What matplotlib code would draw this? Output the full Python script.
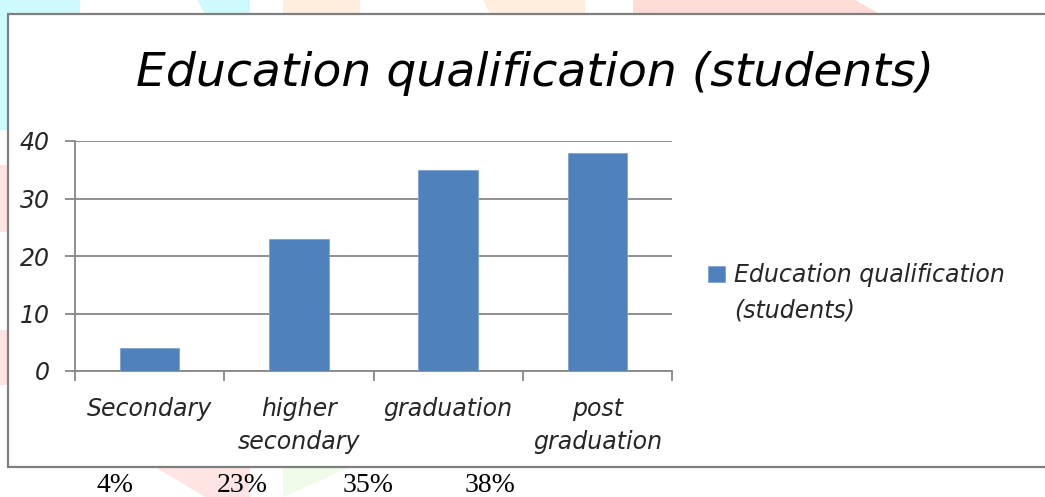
import matplotlib.pyplot as plt
from matplotlib.patches import Rectangle, Polygon

categories = ["Secondary", "higher\nsecondary", "graduation", "post\ngraduation"]
students = [4, 23, 35, 38]
percent_labels = ["4%", "23%", "35%", "38%"]
series_name = "Education qualification\n(students)"
title = "Education qualification (students)"

W, H = 1045, 497
fig = plt.figure(figsize=(W / 100, H / 100), dpi=100)
fig.patch.set_facecolor("white")

def fx(x):
    return x / W

def fy(y):
    return 1 - y / H

# faint watermark blobs around the chart box
blobs = [
    ("#cdfbfd", [(0, 0), (80, 0), (80, 14), (0, 14)]),
    ("#cdfbfd", [(197, 0), (250, 0), (250, 14), (205, 14)]),
    ("#ffeedd", [(283, 0), (360, 0), (360, 14), (283, 14)]),
    ("#ffeedd", [(483, 0), (585, 0), (585, 14), (490, 14)]),
    ("#ffdcd6", [(633, 0), (855, 0), (880, 14), (633, 14)]),
    ("#cdfbfd", [(0, 0), (8, 0), (8, 130), (0, 130)]),
    ("#ffe2e2", [(0, 165), (8, 165), (8, 232), (0, 232)]),
    ("#ffe2e2", [(0, 330), (8, 330), (8, 385), (0, 385)]),
    ("#ffe4e4", [(155, 467), (250, 467), (250, 497), (205, 497)]),
    ("#effbe8", [(283, 467), (350, 467), (283, 497)]),
]
for col, pts in blobs:
    fig.patches.append(Polygon([(fx(a), fy(b)) for a, b in pts], closed=True,
                               transform=fig.transFigure, facecolor=col,
                               edgecolor="none", zorder=0))

# chart area box
fig.patches.append(Rectangle((fx(8), fy(467)), 1.2, fy(14) - fy(467),
                             transform=fig.transFigure, facecolor="white",
                             edgecolor="#7f7f7f", linewidth=1.6, zorder=1))

ax = fig.add_axes([fx(75), fy(371), fx(672) - fx(75), fy(141) - fy(371)])
ax.set_zorder(2)
ax.patch.set_alpha(0)

x = range(len(categories))
bars = ax.bar(x, students, width=0.4, color="#4f81bd", edgecolor="#7fa3d3",
              linewidth=0.6, zorder=3, label=series_name)

ax.set_xlim(-0.5, len(categories) - 0.5)
ax.set_ylim(0, 40)
ax.set_yticks([0, 10, 20, 30, 40])
ax.yaxis.grid(True, color="#878787", linewidth=1.3)
ax.set_axisbelow(True)

lab_font = dict(family="DejaVu Sans", style="oblique", size=17, color="#262626")
ax.set_yticklabels(["0", "10", "20", "30", "40"], **lab_font)
ax.tick_params(axis="y", length=7, width=1.3, color="#878787", pad=11)

ax.set_xticks(list(x))
ax.set_xticklabels(categories, linespacing=1.45, **lab_font)
ax.set_xticks([i - 0.5 for i in range(len(categories) + 1)], minor=True)
ax.tick_params(axis="x", which="major", length=0, pad=19)
ax.tick_params(axis="x", which="minor", length=7, width=1.3, color="#878787")

for s in ["top", "right"]:
    ax.spines[s].set_visible(False)
for s in ["left", "bottom"]:
    ax.spines[s].set_color("#878787")
    ax.spines[s].set_linewidth(1.3)

fig.text(fx(535), fy(74), title, ha="center", va="center",
         family="DejaVu Sans", style="oblique", size=34, color="black")

leg = fig.legend(handles=[bars], labels=[series_name], loc="upper left",
                 bbox_to_anchor=(fx(708), fy(263)), frameon=False,
                 handlelength=0.7, handleheight=0.7, handletextpad=0.4,
                 borderaxespad=0, borderpad=0,
                 prop=dict(family="DejaVu Sans", style="oblique", size=17))
for t in leg.get_texts():
    t.set_linespacing(1.6)
    t.set_color("#262626")
# square sits beside the first line of the label, as in the original
h = leg.legend_handles[0]
h.set_y(h.get_y() + 14.5)

pct_x = [115, 242, 368, 490]
for px_, lab in zip(pct_x, percent_labels):
    fig.text(fx(px_), fy(485), lab, ha="center", va="center",
             family="Liberation Serif", size=20, color="black")

fig.savefig("out.png", dpi=100)
